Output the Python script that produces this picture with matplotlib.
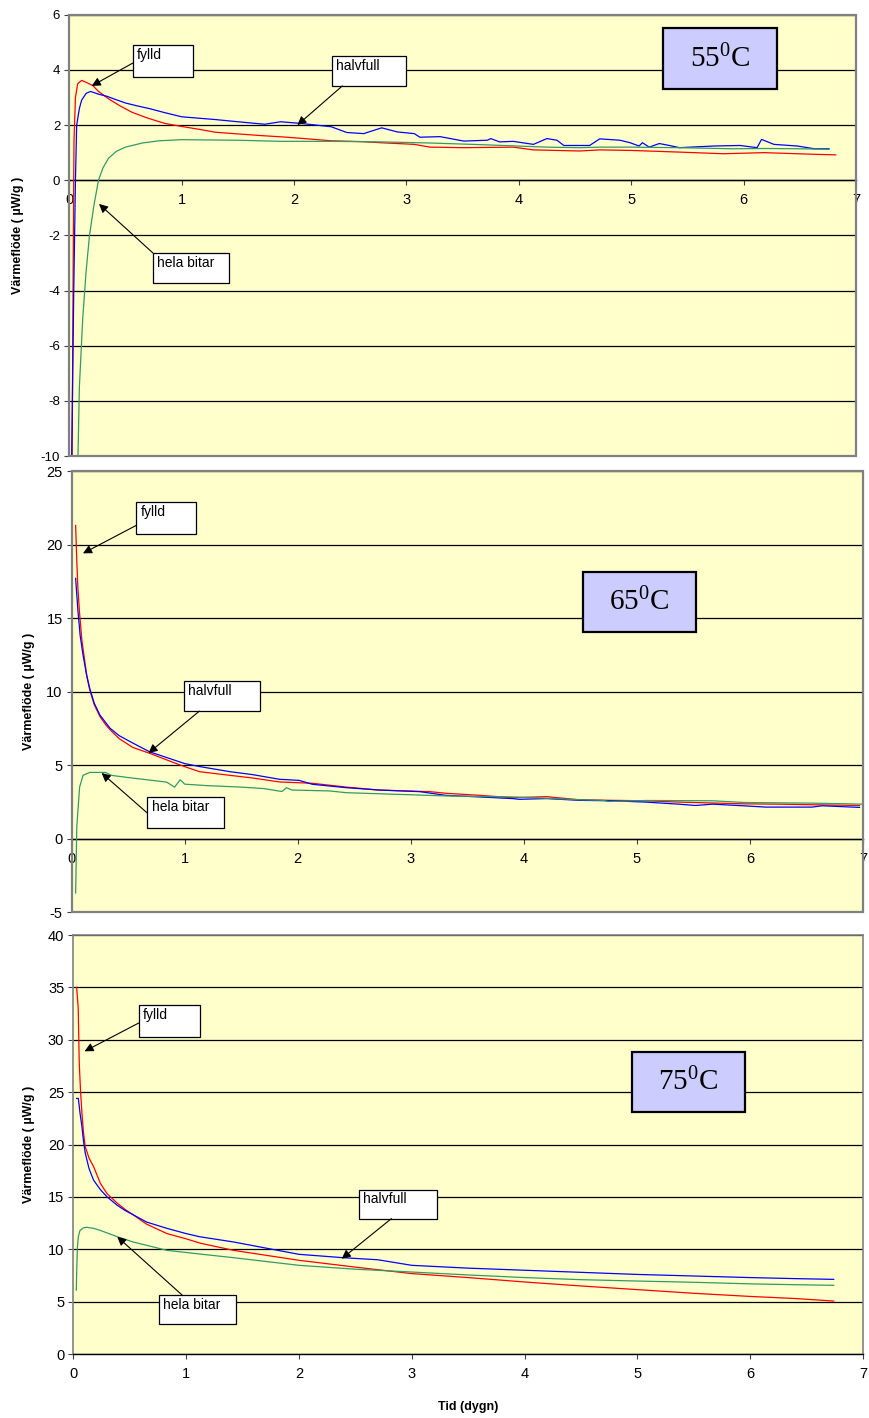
import matplotlib
matplotlib.use('Agg')
import matplotlib.pyplot as plt
from matplotlib.patches import Rectangle
from matplotlib.transforms import offset_copy

plt.rcParams['font.family'] = ['Liberation Sans', 'DejaVu Sans']
plt.rcParams['axes.unicode_minus'] = False

# 55 C
t55_fylld = [0.025, 0.035, 0.042, 0.055, 0.075, 0.11, 0.15, 0.21, 0.26, 0.35, 0.45, 0.56, 0.7,
             0.85, 1.0, 1.15, 1.3, 1.5, 1.7, 1.9, 2.06, 2.33, 2.6, 2.77, 3.07, 3.21, 3.51, 3.95,
             4.13, 4.54, 4.72, 5.0, 5.43, 5.82, 6.18, 6.63, 6.82]
v55_fylld = [-10.5, -3, 1.4, 3.0, 3.5, 3.62, 3.55, 3.43, 3.22, 2.95, 2.7, 2.46, 2.25,
             2.06, 1.95, 1.85, 1.74, 1.68, 1.62, 1.57, 1.52, 1.43, 1.4, 1.36, 1.3, 1.2, 1.18, 1.2,
             1.1, 1.06, 1.1, 1.08, 1.02, 0.96, 1.0, 0.94, 0.92]
t55_halv = [0.02, 0.04, 0.055, 0.066, 0.09, 0.11, 0.15, 0.19, 0.26, 0.33, 0.41, 0.5, 0.6, 0.71,
            0.85, 1.0, 1.15, 1.3, 1.5, 1.74, 1.88, 2.06, 2.33, 2.47, 2.62, 2.78, 2.92, 3.07, 3.12,
            3.3, 3.51, 3.72, 3.75, 3.83, 3.95, 4.13, 4.25, 4.34, 4.4, 4.63, 4.72, 4.9, 4.99, 5.07,
            5.1, 5.16, 5.25, 5.34, 5.43, 5.73, 5.97, 6.12, 6.16, 6.27, 6.48, 6.63, 6.76]
v55_halv = [-10.5, -4, 0, 2.0, 2.6, 2.9, 3.15, 3.22, 3.12, 3.05, 2.93, 2.8, 2.7, 2.6,
            2.45, 2.3, 2.25, 2.2, 2.12, 2.03, 2.12, 2.06, 1.94, 1.73, 1.69, 1.9, 1.75, 1.69, 1.56,
            1.58, 1.42, 1.45, 1.51, 1.39, 1.41, 1.3, 1.51, 1.45, 1.26, 1.26, 1.5, 1.45, 1.36, 1.24,
            1.36, 1.2, 1.33, 1.26, 1.18, 1.24, 1.26, 1.18, 1.48, 1.3, 1.24, 1.14, 1.14]
t55_hela = [0.075, 0.09, 0.12, 0.15, 0.18, 0.22, 0.26, 0.3, 0.35, 0.42, 0.5, 0.65, 0.8, 1.0,
            1.5, 1.88, 2.33, 2.77, 3.21, 3.66, 4.25, 4.54, 4.72, 5.0, 5.43, 5.9, 6.2, 6.5, 6.76]
v55_hela = [-10.5, -7.5, -5, -3.3, -2, -0.9, 0, 0.45, 0.8, 1.05, 1.2, 1.35, 1.43, 1.47,
            1.45, 1.41, 1.41, 1.39, 1.35, 1.29, 1.2, 1.18, 1.2, 1.2, 1.18, 1.14, 1.15, 1.14, 1.12]

# 65 C
t65_fylld = [0.035, 0.045, 0.055, 0.07, 0.09, 0.115, 0.135, 0.16, 0.2, 0.25, 0.3, 0.34, 0.42,
             0.54, 0.69, 0.96, 1.13, 1.4, 1.6, 1.84, 2.13, 2.43, 2.72, 3.17, 3.31, 3.61, 3.9,
             4.2, 4.49, 4.78, 5.08, 5.37, 5.96, 6.25, 6.55, 6.97]
v65_fylld = [21.3, 18.9, 17.0, 15.3, 13.5, 12.1, 11.0, 10.1, 9.1, 8.3, 7.75, 7.4, 6.8,
             6.2, 5.8, 5.0, 4.55, 4.3, 4.12, 3.85, 3.76, 3.5, 3.3, 3.19, 3.08, 2.94, 2.78,
             2.85, 2.64, 2.6, 2.57, 2.48, 2.36, 2.34, 2.3, 2.25]
t65_halv = [0.035, 0.055, 0.075, 0.1, 0.13, 0.16, 0.2, 0.25, 0.3, 0.34, 0.42, 0.54, 0.69, 1.0,
            1.13, 1.4, 1.6, 1.84, 2.01, 2.13, 2.43, 2.72, 3.08, 3.31, 3.61, 3.9, 3.96, 4.2,
            4.49, 4.78, 5.08, 5.37, 5.52, 5.67, 5.94, 6.14, 6.55, 6.64, 6.97]
v65_halv = [17.7, 15.5, 13.8, 12.5, 11.2, 10.2, 9.2, 8.4, 7.9, 7.5, 7.0, 6.5, 5.9, 5.1,
            4.9, 4.55, 4.35, 4.03, 3.96, 3.69, 3.46, 3.3, 3.19, 2.94, 2.83, 2.72, 2.67, 2.72,
            2.6, 2.57, 2.48, 2.34, 2.25, 2.34, 2.23, 2.14, 2.14, 2.23, 2.12]
t65_hela = [0.035, 0.045, 0.07, 0.1, 0.16, 0.3, 0.35, 0.5, 0.84, 0.91, 0.96, 1.0, 1.2, 1.5,
            1.7, 1.82, 1.86, 1.9, 1.95, 2.28, 2.43, 2.87, 3.31, 3.9, 4.2, 4.49, 4.7, 4.75, 5.08,
            5.67, 5.96, 6.55, 7.0]
v65_hela = [-3.7, 0.8, 3.5, 4.3, 4.5, 4.5, 4.3, 4.15, 3.84, 3.5, 4.0, 3.7, 3.6, 3.5,
            3.4, 3.25, 3.2, 3.46, 3.3, 3.24, 3.12, 3.01, 2.9, 2.83, 2.74, 2.64, 2.6, 2.52, 2.59,
            2.57, 2.45, 2.41, 2.34]

# 75 C
t75_fylld = [0.03, 0.044, 0.053, 0.065, 0.077, 0.09, 0.106, 0.14, 0.18, 0.24, 0.3, 0.39, 0.46,
             0.53, 0.65, 0.83, 1.0, 1.12, 1.42, 2.0, 2.5, 3.0, 3.5, 4.0, 4.5, 5.0, 5.5, 6.0,
             6.4, 6.74]
v75_fylld = [35.0, 33.0, 27.8, 25.0, 23.0, 21.2, 19.8, 18.7, 17.9, 16.3, 15.3, 14.4, 13.8,
             13.3, 12.4, 11.5, 11.0, 10.6, 9.9, 8.95, 8.3, 7.68, 7.3, 6.88, 6.5, 6.15, 5.8, 5.5,
             5.3, 5.06]
t75_halv = [0.03, 0.045, 0.06, 0.077, 0.09, 0.106, 0.14, 0.18, 0.24, 0.3, 0.39, 0.46, 0.53,
            0.65, 0.83, 1.0, 1.12, 1.42, 2.0, 2.39, 2.7, 3.0, 3.5, 4.0, 4.5, 5.0, 5.5, 6.0,
            6.4, 6.74]
v75_halv = [24.4, 24.4, 23.0, 21.7, 20.4, 19.2, 17.7, 16.6, 15.7, 15.0, 14.2, 13.7, 13.3,
            12.6, 12.0, 11.5, 11.2, 10.7, 9.52, 9.2, 9.0, 8.47, 8.2, 8.0, 7.8, 7.6, 7.45, 7.3,
            7.2, 7.13]
t75_hela = [0.027, 0.032, 0.037, 0.045, 0.06, 0.09, 0.12, 0.18, 0.24, 0.39, 0.53, 0.83, 1.12,
            1.42, 2.0, 2.5, 3.0, 3.5, 4.0, 4.5, 5.0, 5.5, 6.0, 6.4, 6.74]
v75_hela = [6.1, 8.5, 10.2, 11.2, 11.8, 12.05, 12.1, 12.0, 11.8, 11.2, 10.7, 9.9, 9.55,
            9.2, 8.47, 8.1, 7.83, 7.55, 7.3, 7.1, 6.97, 6.85, 6.7, 6.62, 6.56]

temps = ['55', '65', '75']
ylims = [(-10, 6), (-5, 25), (0, 40)]
ysteps = [2, 5, 5]
x_ticks = [0, 1, 2, 3, 4, 5, 6, 7]
ylabel = 'Värmeflöde ( µW/g )'

RED = '#FF0000'
BLUE = '#0000FF'
GREEN = '#339966'
BG = '#FFFFCC'
GRAY = '#808080'

fig = plt.figure(figsize=(8.69, 14.18), dpi=100)
positions = [
    [0.0797, 0.6784, 0.9053, 0.3112],
    [0.0825, 0.3568, 0.9105, 0.3110],
    [0.0843, 0.0451, 0.9088, 0.2955],
]

# label boxes: (text, box x0, y0, x1, y1, arrow start, arrow tip)
notes = [
    [('fylld', 0.566, 3.74, 1.1, 4.9, (0.566, 4.25), (0.2, 3.42)),
     ('halvfull', 2.34, 3.42, 3.0, 4.5, (2.43, 3.42), (2.03, 2.0)),
     ('hela bitar', 0.745, -3.73, 1.42, -2.64, (0.745, -2.64), (0.265, -0.86))],
    [('fylld', 0.57, 20.7, 1.1, 22.9, (0.57, 21.3), (0.1, 19.4)),
     ('halvfull', 0.99, 8.67, 1.67, 10.7, (1.13, 8.67), (0.68, 5.82)),
     ('hela bitar', 0.67, 0.71, 1.35, 2.82, (0.67, 1.73), (0.265, 4.46))],
    [('fylld', 0.58, 30.26, 1.12, 33.3, (0.58, 31.6), (0.1, 28.9)),
     ('halvfull', 2.53, 12.93, 3.22, 15.7, (2.82, 12.93), (2.38, 9.1)),
     ('hela bitar', 0.76, 2.86, 1.44, 5.63, (0.965, 5.63), (0.39, 11.2))],
]
temp_boxes = [(5.28, 3.30, 6.30, 5.52), (4.52, 14.06, 5.52, 18.1), (4.95, 23.1, 5.95, 28.8)]
label_x = [-0.057, -0.047, -0.048]

series = [
    [(t55_fylld, v55_fylld, RED), (t55_halv, v55_halv, BLUE), (t55_hela, v55_hela, GREEN)],
    [(t65_fylld, v65_fylld, RED), (t65_halv, v65_halv, BLUE), (t65_hela, v65_hela, GREEN)],
    [(t75_fylld, v75_fylld, RED), (t75_halv, v75_halv, BLUE), (t75_hela, v75_hela, GREEN)],
]

for i in range(3):
    ax = fig.add_axes(positions[i])
    ax.set_facecolor(BG)
    for t, v, c in series[i]:
        ax.plot(t, v, color=c, lw=0.9, zorder=3)
    lo, hi = ylims[i]
    ax.set_xlim(0, 7)
    ax.set_ylim(lo, hi)
    ax.set_xticks(x_ticks)
    ax.set_yticks(list(range(lo, hi + 1, ysteps[i])))
    ax.yaxis.grid(True, color='black', lw=0.9)
    ax.set_axisbelow(True)

    for s in ['top', 'right', 'left']:
        ax.spines[s].set_color(GRAY)
        ax.spines[s].set_linewidth(1.2)
    ax.spines['bottom'].set_position(('data', 0))
    ax.spines['bottom'].set_color('black')
    ax.spines['bottom'].set_linewidth(1.0)
    if lo < 0:
        ax.add_patch(Rectangle((0, 0), 1, 1, transform=ax.transAxes, fill=False,
                               edgecolor=GRAY, lw=1.6, zorder=4, clip_on=False))
    ax.tick_params(axis='both', length=3.5, width=0.8, color='#404040', pad=3)
    ax.tick_params(axis='x', labelsize=10.5, pad=6)
    ax.tick_params(axis='y', labelsize=9.5 if i == 0 else 10.5)

    ax.set_ylabel(ylabel, fontsize=9, fontweight='bold')
    ax.yaxis.set_label_coords(label_x[i], 0.5)

    for text, x0, y0, x1, y1, start, tip in notes[i]:
        ax.add_patch(Rectangle((x0, y0), x1 - x0, y1 - y0, facecolor='white',
                               edgecolor='black', lw=0.9, zorder=5))
        tr = offset_copy(ax.transData, fig=fig, x=3, y=-2, units='points')
        ax.text(x0, y1, text, transform=tr, ha='left', va='top', fontsize=10, zorder=6)
        ax.annotate('', xy=tip, xytext=start, zorder=6,
                    arrowprops=dict(arrowstyle='-|>', color='black', lw=0.8,
                                    mutation_scale=13, shrinkA=0, shrinkB=0))

    x0, y0, x1, y1 = temp_boxes[i]
    ax.add_patch(Rectangle((x0, y0), x1 - x0, y1 - y0, facecolor='#CCCCFF',
                           edgecolor='black', lw=1.6, zorder=5))
    ax.text((x0 + x1) / 2, (y0 + y1) / 2, r'$\mathregular{%s^{0}C}$' % temps[i],
            ha='center', va='center', fontsize=21, family='Liberation Serif', zorder=6)

    if i == 2:
        ax.set_xlabel('Tid (dygn)', fontsize=9, fontweight='bold', labelpad=14)

fig.savefig('out.png', dpi=100)
